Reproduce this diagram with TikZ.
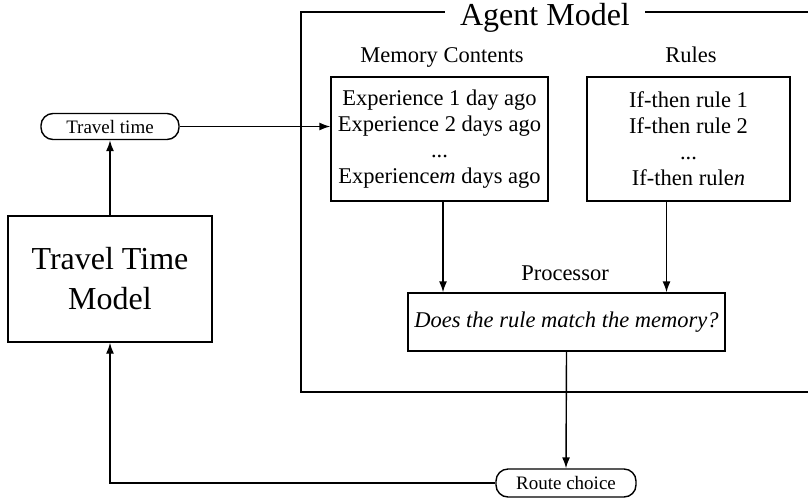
\documentclass[tikz,border=0pt]{standalone}
\usepackage{fontspec}
\setmainfont{Liberation Serif}
\usetikzlibrary{arrows.meta, positioning, calc}

\begin{document}
\begin{tikzpicture}[x=1pt, y=-1pt,
    box/.style={draw, line width=1.4pt, align=center, inner sep=0pt},
    pill/.style={draw, line width=1.4pt, rounded corners=12pt, minimum width=138pt, minimum height=26pt, inner sep=0pt, font=\fontsize{19}{22}\selectfont},
    lbl/.style={inner sep=0pt, font=\fontsize{22.5}{26}\selectfont},
    arr/.style={-{Latex[length=11pt, width=8pt]}, line width=1.4pt}]
  \useasboundingbox (0,0) rectangle (808,499);

  % Travel time model
  \node[box, minimum width=204pt, minimum height=126pt, font=\fontsize{32}{40}\selectfont] (ttm) at (110,279) {Travel Time\\Model};
  \node[pill] (ttime) at (110,126.5) {Travel time};

  % Agent model frame
  \node[lbl, font=\fontsize{32}{38}\selectfont, inner xsep=15pt] (agent) at (545,18) {Agent Model};
  \coordinate (frbl) at (301,392);
  \draw[line width=1.4pt] ([yshift=6pt]agent.west) -| (frbl) -- (808,392);
  \draw[line width=1.4pt] ([yshift=6pt]agent.east) -- (808,12);

  % Memory
  \node[box, lbl, minimum width=217pt, minimum height=124pt] (mem) at (439.5,139) {Experience 1 day ago\\Experience 2 days ago\\...\\Experience\textit{m} days ago};
  \node[lbl, anchor=base] (memlbl) at (442,62) {Memory Contents};

  % Rules
  \node[box, lbl, minimum width=203pt, minimum height=124pt] (rules) at (688.5,139) {If-then rule 1\\If-then rule 2\\...\\If-then rule\textit{n}};
  \node[lbl, anchor=base] (ruleslbl) at (691,62) {Rules};

  % Processor
  \node[box, lbl, minimum width=317pt, minimum height=58pt, font=\fontsize{22.5}{26}\selectfont\itshape] (proc) at (566.5,322) {Does the rule match the memory?};
  \node[lbl, anchor=base] (proclbl) at (565,280) {Processor};

  \node[pill, minimum width=140pt, minimum height=28pt] (route) at (566,483) {Route choice};

  % Connecting arrows
  \draw[arr] (ttm.north) -- (ttime.south);
  \draw[arr] (ttime.east) -- (ttime.east -| mem.west);
  \draw[arr] ([xshift=3.5pt]mem.south) -- ([xshift=3.5pt]mem.south |- proc.north);
  \draw[arr] ([xshift=-22pt]rules.south) -- ([xshift=-22pt]rules.south |- proc.north);
  \draw[arr] (proc.south) -- (route.north);
  \draw[arr] (route.west) -| (ttm.south);
\end{tikzpicture}
\end{document}
